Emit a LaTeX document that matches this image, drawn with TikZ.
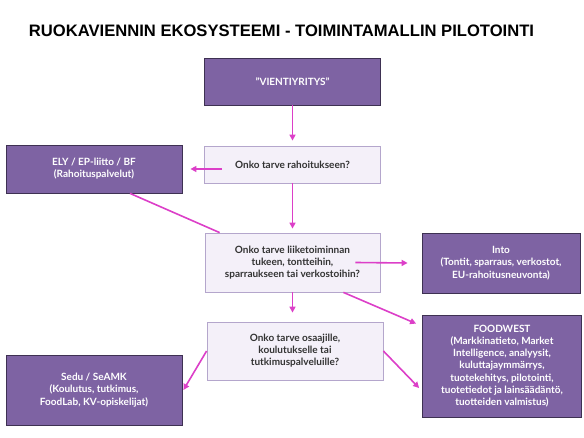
\documentclass[tikz,border=0pt]{standalone}
\usepackage{fontspec}
\setmainfont{Lato}
\newfontfamily\titlefont{Liberation Sans}
\usepackage{xcolor}
\usetikzlibrary{arrows.meta}

\definecolor{boxpurple}{HTML}{7E63A3}
\definecolor{boxedge}{HTML}{3E3152}
\definecolor{qfill}{HTML}{F4F0F9}
\definecolor{qedge}{HTML}{B4A6CC}
\definecolor{arrowpink}{HTML}{DC3FC8}
\definecolor{qtext}{HTML}{333333}

\tikzset{
  actor/.style={draw=boxedge, line width=0.8pt, fill=boxpurple, text=white,
    font=\bfseries\fontsize{10}{12.2}\selectfont, align=center, inner sep=0pt},
  question/.style={draw=qedge, line width=0.8pt, fill=qfill, text=qtext,
    font=\bfseries\fontsize{10}{12}\selectfont, align=center, inner sep=0pt},
  arr/.style={draw=arrowpink, line width=1.6pt, -{Triangle[length=6pt,width=6pt]}},
  link/.style={draw=arrowpink, line width=1.6pt}
}

\begin{document}
\begin{tikzpicture}[x=1pt,y=-1pt]
    \useasboundingbox (0,0) rectangle (584,438);
    \node [font=\titlefont\bfseries\fontsize{16.6}{19}\selectfont] (title) at (281.5,31)
      {RUOKAVIENNIN EKOSYSTEEMI - TOIMINTAMALLIN PILOTOINTI};

    \node [actor, minimum width=176pt, minimum height=47pt] (vienti) at (292.5,81.5) {”VIENTIYRITYS”};
    \node [question, minimum width=176pt, minimum height=37pt] (rahoitus) at (292.5,164.5) {Onko tarve rahoitukseen?};
    \node [actor, minimum width=176pt, minimum height=48pt] (ely) at (94,169) {ELY / EP-liitto / BF\\(Rahoituspalvelut)};
    \node [question, minimum width=175pt, minimum height=59pt] (liike) at (292.5,262.5)
      {Onko tarve liiketoiminnan\\tukeen, tontteihin,\\sparraukseen tai verkostoihin?};
    \node [actor, minimum width=158pt, minimum height=60pt] (into) at (501,263)
      {Into\\(Tontit, sparraus, verkostot,\\EU-rahoitusneuvonta)};
    \node [question, minimum width=176pt, minimum height=58pt] (osaa) at (295,351)
      {Onko tarve osaajille,\\koulutukselle tai\\tutkimuspalveluille?};
    \node [actor, minimum width=159pt, minimum height=102pt] (food) at (502,366)
      {FOODWEST\\(Markkinatieto, Market\\Intelligence, analyysit,\\kuluttajaymmärrys,\\tuotekehitys, pilotointi,\\tuotetiedot ja lainsäädäntö,\\tuotteiden valmistus)};
    \node [actor, minimum width=176pt, minimum height=70pt] (sedu) at (94,390)
      {Sedu / SeAMK\\(Koulutus, tutkimus,\\FoodLab, KV-opiskelijat)};

    % connectors
    \draw [arr, shorten >=5pt] (vienti.south) -- (rahoitus.north);
    \draw [arr] ([xshift=18pt]rahoitus.west |- ely.east) -- ([xshift=8pt]ely.east);
    \draw [link] ([xshift=36pt]ely.south) -- ([xshift=15pt]liike.north west);
    \draw [arr, shorten >=4pt] (rahoitus.south) -- (liike.north);
    \draw [arr] ([xshift=-25pt]liike.east) -- ([xshift=-14pt]into.west);
    \draw [arr] ([xshift=-37pt]liike.south east) -- ([xshift=-6pt,yshift=-9pt]food.north west);
    \draw [arr, shorten >=9pt] (liike.south) -- (liike.south |- osaa.north);
    \draw [arr] (osaa.west) -- ([xshift=1pt]sedu.east);
    \draw [arr] (osaa.east) -- ([xshift=-3pt,yshift=-22pt]food.west);
\end{tikzpicture}
\end{document}
